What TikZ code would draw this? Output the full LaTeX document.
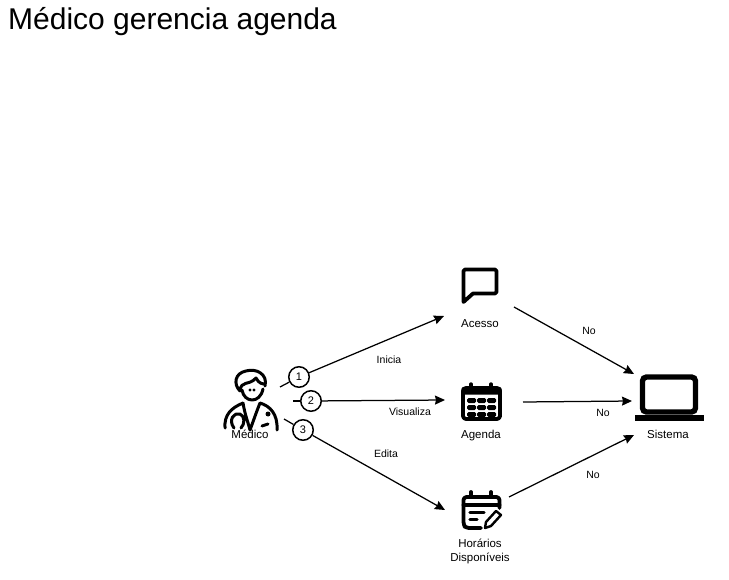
\documentclass[tikz,border=0pt]{standalone}
\usepackage{fontspec}
\setmainfont{Liberation Sans}
\usetikzlibrary{arrows.meta}

\tikzset{
  arr/.style={-{Stealth[length=10pt,width=9pt,inset=1pt]}, line width=1.25pt},
  lnk/.style={line width=1.25pt},
  num/.style={draw, circle, fill=white, line width=1.5pt, minimum size=20.5pt, inner sep=0pt, font=\fontsize{11}{12}\selectfont},
  lbl/.style={font=\fontsize{10.5}{12}\selectfont, inner sep=0pt},
  capt/.style={font=\fontsize{11.5}{14}\selectfont, inner sep=0pt, align=center},
  ico/.style={line width=3.8pt, line join=round, line cap=round}
}

\begin{document}
\begin{tikzpicture}[x=1pt, y=-1pt]
\useasboundingbox (0,0) rectangle (729,580);
\node[anchor=west, inner sep=0pt, font=\fontsize{30}{34}\selectfont] (title) at (8,22) {Médico gerencia agenda};

% icons
\draw[ico] (463.5,302) -- (463.5,271) -- (465,269.5) -- (495,269.5) -- (496.5,271) -- (496.5,292) -- (495,293.5) -- (473,293.5) -- cycle;

\draw[ico, rounded corners=3pt] (463,388) rectangle (500,419);
\fill[rounded corners=2pt] (461.5,387) rectangle (501.5,394.5);
\draw[line width=3.4pt, line cap=round] (471,384) -- (471,388) (491,384) -- (491,388);
\foreach \r in {398,405,412} \foreach \c in {467,477,487} \fill[rounded corners=1.5pt] (\c,\r) rectangle ++(9,5);

\draw[ico, rounded corners=3pt] (481,528) -- (466,528) -- (463.5,525) -- (463.5,497) -- (499.5,497) -- (499.5,508);
\draw[ico] (463.5,505) -- (499.5,505) (471,492) -- (471,497) (491,492) -- (491,497);
\draw[line width=3.2pt, line cap=round] (470,512.5) -- (484,512.5) (470,519.5) -- (477,519.5);
\draw[line width=2.4pt, line join=round] (485,528) -- (486,522) -- (496,511) -- (501,515) -- (491,526) -- cycle;

\draw[line width=5.4pt, rounded corners=4pt] (642.5,377) rectangle (695.5,412);
\fill (635,415) rectangle (704,421);

% doctor
\draw[line width=3pt, line cap=round, line join=round]
  (240,391) .. controls (233,384) and (235,373) .. (246,371) .. controls (256,368) and (268,374) .. (265,386)
  (240,391) .. controls (241,380) and (249,386) .. (256,378) .. controls (259,384) and (263,384) .. (265,384)
  (242,390) .. controls (244,403) and (260,404) .. (263,389);
\fill (250,390) circle (1.6pt) (254,390) circle (1.6pt);
\draw[line width=3pt, line cap=round, line join=round]
  (225,428) .. controls (224,415) and (231,408) .. (243,403)
  (243,403) .. controls (245,415) and (248,422) .. (250,430) .. controls (253,422) and (256,413) .. (260,403)
  (260,403) .. controls (270,406) and (278,414) .. (277,430)
  (234,428) .. controls (228,420) and (234,412) .. (240,414) .. controls (245,416) and (245,424) .. (241,428)
  (262,426) -- (268,424);
\fill (268,414) circle (2.5pt);

% captions
\node[capt] (acesso) at (480,323.5) {Acesso};
\node[capt] (agenda) at (481,435.5) {Agenda};
\node[capt] (horarios) at (480,551.5) {Horários\\Disponíveis};
\node[capt] (sistema) at (668,434.5) {Sistema};
\node[capt] (medico) at (250,434.5) {Médico};

% connector ends
\coordinate (m1) at (280,387);
\coordinate (m2) at (293,401);
\coordinate (m3) at (284,419);
\coordinate (a1) at (444,316);
\coordinate (a2) at (514,307);
\coordinate (b1) at (445,400);
\coordinate (b2) at (523,402);
\coordinate (c1) at (445,510);
\coordinate (c2) at (509,497);
\coordinate (s1) at (634,374);
\coordinate (s2) at (632,401);
\coordinate (s3) at (634,435);

\node[num] (n1) at (299,377) {1};
\node[num] (n2) at (311,401) {2};
\node[num] (n3) at (303,430) {3};

\draw[lnk] (m1) -- (n1);
\draw[lnk] (m2) -- (n2);
\draw[lnk] (m3) -- (n3);
\draw[arr] (n1) -- (a1);
\draw[arr] (n2) -- (b1);
\draw[arr] (n3) -- (c1);
\draw[arr] (a2) -- (s1);
\draw[arr] (b2) -- (s2);
\draw[arr] (c2) -- (s3);

\node[lbl] (inicia) at (389,359.5) {Inicia};
\node[lbl] (visualiza) at (410,411.5) {Visualiza};
\node[lbl] (edita) at (386,453.5) {Edita};
\node[lbl] (no1) at (589,330.5) {No};
\node[lbl] (no2) at (603,412.5) {No};
\node[lbl] (no3) at (593,474.5) {No};
\end{tikzpicture}
\end{document}
